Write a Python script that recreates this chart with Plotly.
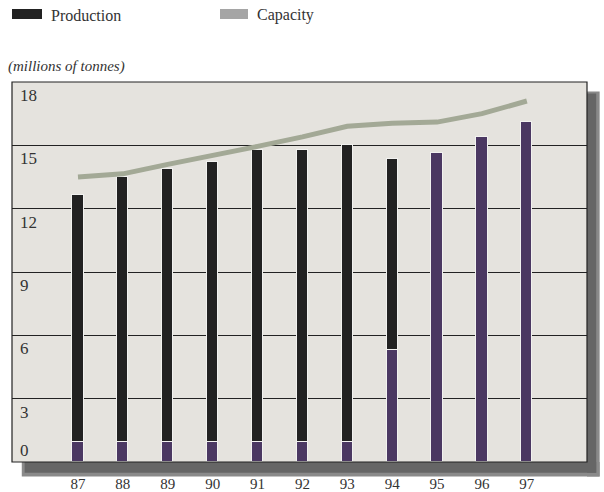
import plotly.graph_objects as go

years = [87, 88, 89, 90, 91, 92, 93, 94, 95, 96, 97]
year_labels = ["87", "88", "89", "90", "91", "92", "93", "94", "95", "96", "97"]
production_total = [12.65, 13.5, 13.9, 14.2, 14.8, 14.8, 15.0, 14.35, 14.65, 15.4, 16.1]
production_purple = [0.95, 0.95, 0.95, 0.95, 0.95, 0.95, 0.95, 5.3, 14.65, 15.4, 16.1]
production_black = [t - p for t, p in zip(production_total, production_purple)]
capacity = [13.5, 13.65, 14.1, 14.5, 14.95, 15.4, 15.9, 16.05, 16.1, 16.5, 17.1]
y_ticks = [0, 3, 6, 9, 12, 15, 18]

FONT = "Liberation Serif, Times New Roman, serif"
TXT = "#333333"

fig = go.Figure()
fig.add_trace(go.Bar(x=years, y=production_purple, marker=dict(color="#4b3862", line=dict(color="#f2f2f0", width=1)),
                     width=0.25, showlegend=False))
fig.add_trace(go.Bar(x=years, y=production_black, marker=dict(color="#222222", line=dict(color="#f2f2f0", width=1)),
                     width=0.25, showlegend=False))
fig.add_trace(go.Scatter(x=years, y=capacity, mode="lines", line=dict(color="#a3a996", width=5),
                         showlegend=False))

shapes = [
    # drop shadow
    dict(type="rect", xref="paper", yref="paper", x0=1.0, x1=1.022, y0=-0.038, y1=0.975,
         fillcolor="#8a8a8a", line=dict(width=0), layer="below"),
    dict(type="rect", xref="paper", yref="paper", x0=0.017, x1=1.022, y0=-0.038, y1=0.0,
         fillcolor="#8a8a8a", line=dict(width=0), layer="below"),
    dict(type="rect", xref="paper", yref="paper", x0=1.0, x1=1.016, y0=-0.028, y1=0.97,
         fillcolor="#666666", line=dict(width=0), layer="below"),
    dict(type="rect", xref="paper", yref="paper", x0=0.022, x1=1.016, y0=-0.028, y1=0.0,
         fillcolor="#666666", line=dict(width=0), layer="below"),
    # plot border
    dict(type="rect", xref="paper", yref="paper", x0=0, x1=1, y0=0, y1=1,
         line=dict(color="#222222", width=1.2), fillcolor="rgba(0,0,0,0)"),
    # legend swatches
    dict(type="rect", xref="paper", yref="paper", x0=0.0, x1=30/575, y0=(462-9)/380, y1=(462-19)/380,
         fillcolor="#222222", line=dict(width=0)),
    dict(type="rect", xref="paper", yref="paper", x0=208/575, x1=236/575, y0=(462-9)/380, y1=(462-19)/380,
         fillcolor="#a5a5a5", line=dict(width=0)),
]

annotations = [
    dict(text="Production", xref="paper", yref="paper", x=37/575, y=(462-15)/380, xanchor="left", yanchor="middle",
         showarrow=False, font=dict(family=FONT, size=16, color=TXT)),
    dict(text="Capacity", xref="paper", yref="paper", x=243/575, y=(462-15)/380, xanchor="left", yanchor="middle",
         showarrow=False, font=dict(family=FONT, size=16, color=TXT)),
    dict(text="<i>(millions of tonnes)</i>", xref="paper", yref="paper", x=-6/575, y=(462-66)/380,
         xanchor="left", yanchor="middle", showarrow=False, font=dict(family=FONT, size=15, color=TXT)),
]
for v in y_ticks:
    annotations.append(dict(text=str(v), xref="paper", yref="y", x=6/575, y=v, xanchor="left",
                            yanchor="bottom" if v == 0 else "top", yshift=0 if v == 0 else -2,
                            showarrow=False, font=dict(family=FONT, size=17, color=TXT)))

fig.update_layout(
    width=604, height=492,
    margin=dict(l=12, r=17, t=82, b=30),
    paper_bgcolor="white", plot_bgcolor="#e5e3de",
    barmode="stack", bargap=0,
    shapes=shapes, annotations=annotations,
    font=dict(family=FONT, color=TXT),
    xaxis=dict(range=[85.53, 98.34], tickvals=years, ticktext=year_labels, showgrid=False,
               zeroline=False, ticks="outside", ticklen=8, tickcolor="rgba(0,0,0,0)",
               tickfont=dict(family=FONT, size=15, color=TXT), showline=False, automargin=False),
    yaxis=dict(range=[0, 18], tickvals=y_ticks, showticklabels=False, showgrid=True,
               gridcolor="#222222", gridwidth=1, zeroline=False, showline=False, automargin=False),
)

fig.write_html("out.html")
